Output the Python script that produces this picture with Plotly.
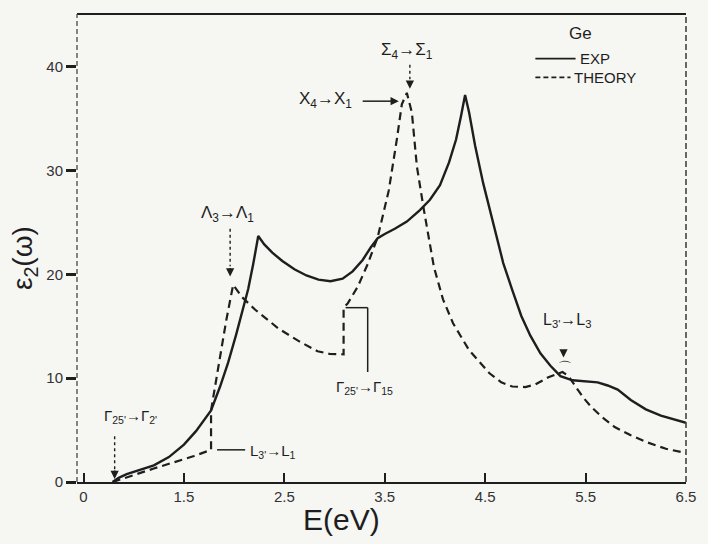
import plotly.graph_objects as go

# ---- data ----
exp_E = [0.79, 0.85, 0.93, 1.05, 1.2, 1.35, 1.5, 1.62, 1.77, 1.86, 1.94, 2.02, 2.08, 2.14, 2.19, 2.24,
         2.30, 2.38, 2.48, 2.60, 2.72, 2.84, 2.96, 3.08, 3.18, 3.28, 3.36, 3.43, 3.50, 3.60, 3.72, 3.85,
         3.95, 4.05, 4.14, 4.21, 4.26, 4.30, 4.34, 4.40, 4.48, 4.58, 4.68, 4.77, 4.86, 4.95, 5.05, 5.15,
         5.25, 5.37, 5.50, 5.62, 5.72, 5.82, 5.95, 6.10, 6.25, 6.40, 6.5]
exp_eps = [0, 0.4, 0.75, 1.1, 1.6, 2.4, 3.6, 4.9, 6.9, 9.2, 11.5, 14.2, 16.3, 18.6, 21.0, 23.7,
           22.9, 22.1, 21.3, 20.5, 19.9, 19.5, 19.35, 19.6, 20.3, 21.4, 22.6, 23.5, 23.9, 24.4, 25.1, 26.2,
           27.2, 28.6, 30.8, 33.0, 35.3, 37.3, 35.6, 32.4, 28.8, 24.8, 21.1, 18.5, 16.0, 14.1, 12.4, 11.2,
           10.2, 9.8, 9.7, 9.6, 9.3, 8.9, 7.9, 7.0, 6.4, 6.0, 5.7]

th_E = [0.79, 1.0, 1.2, 1.4, 1.6, 1.77, 1.77, 1.85, 1.92, 1.99, 2.08, 2.21, 2.33, 2.44, 2.64, 2.83,
        2.95, 3.09, 3.09, 3.13, 3.23, 3.33, 3.43, 3.54, 3.62, 3.67, 3.72, 3.77, 3.82, 3.89, 3.99, 4.08,
        4.18, 4.34, 4.54, 4.66, 4.77, 4.90, 5.00, 5.13, 5.27, 5.33, 5.40, 5.48, 5.56, 5.67, 5.79, 5.95,
        6.12, 6.30, 6.5]
th_eps = [0, 0.7, 1.3, 1.9, 2.5, 3.1, 6.9, 11.5, 15.5, 19.0, 17.8, 16.6, 15.7, 14.8, 13.6, 12.6,
          12.35, 12.3, 16.8, 17.2, 18.8, 21.0, 23.6, 28.1, 33.0, 36.4, 37.5, 35.6, 30.4, 26.2, 20.7, 17.6,
          15.3, 12.7, 10.5, 9.6, 9.2, 9.15, 9.4, 10.1, 10.6, 10.2, 9.2, 8.1, 7.2, 6.2, 5.3, 4.5,
          3.8, 3.2, 2.8]

x_tickvals = [0.5, 1.5, 2.5, 3.5, 4.5, 5.5, 6.5]
x_ticktext = ["0", "1.5", "2.5", "3.5", "4.5", "5.5", "6.5"]
y_tickvals = [0, 10, 20, 30, 40]

INK = "#1e1e1e"
FONT = "Liberation Sans"
BG = "#f6f6f3"

fig = go.Figure()
fig.add_trace(go.Scatter(x=exp_E, y=exp_eps, mode="lines", name="EXP",
                         line=dict(color=INK, width=2.4)))
fig.add_trace(go.Scatter(x=th_E, y=th_eps, mode="lines", name="THEORY",
                         line=dict(color=INK, width=2.2, dash="8px,5px")))

shapes = []
anns = []

def seg(x0, y0, x1, y1, dash=None, width=1.4):
    d = dict(type="line", xref="x", yref="y", x0=x0, y0=y0, x1=x1, y1=y1,
             line=dict(color=INK, width=width))
    if dash:
        d["line"]["dash"] = dash
    shapes.append(d)

def head(x, y, ax, ay):
    anns.append(dict(x=x, y=y, xref="x", yref="y", ax=ax, ay=ay, text="", showarrow=True,
                     arrowhead=2, arrowsize=1.1, arrowwidth=1.5, arrowcolor=INK, standoff=0))

def label(x, y, text, size=15, anchor="center"):
    anns.append(dict(x=x, y=y, xref="x", yref="y", text=text, showarrow=False,
                     xanchor=anchor, font=dict(family=FONT, size=size, color=INK)))

# frame
shapes.append(dict(type="line", xref="paper", yref="paper", x0=0, y0=1, x1=1, y1=1,
                   line=dict(color=INK, width=2)))
shapes.append(dict(type="line", xref="paper", yref="paper", x0=1, y0=0, x1=1, y1=1,
                   line=dict(color="#444", width=1.6, dash="6px,3px")))
shapes.append(dict(type="line", xref="paper", yref="paper", x0=0, y0=0, x1=0, y1=1,
                   line=dict(color="#555", width=1.4, dash="5px,3px")))

# Gamma25' -> Gamma2'
label(0.97, 6.3, "Γ<sub>25'</sub>→Γ<sub>2'</sub>", size=15)
seg(0.81, 4.4, 0.81, 1.0, dash="3px,3px")
head(0.81, 0.3, 0, -10)

# L3' -> L1
seg(1.83, 3.1, 2.11, 3.1, width=1.5)
label(2.14, 2.9, "L<sub>3'</sub>→L<sub>1</sub>", size=15, anchor="left")

# Lambda3 -> Lambda1
label(1.93, 25.8, "Λ<sub>3</sub>→Λ<sub>1</sub>", size=17)
seg(1.96, 24.4, 1.96, 20.8, dash="3px,3px")
head(1.96, 19.8, 0, -10)

# X4 -> X1
label(2.91, 36.8, "X<sub>4</sub>→X<sub>1</sub>", size=17)
seg(3.28, 36.7, 3.56, 36.7, width=1.5)
head(3.64, 36.7, -10, 0)

# Sigma4 -> Sigma1
label(3.72, 41.5, "Σ<sub>4</sub>→Σ<sub>1</sub>", size=17)
seg(3.75, 40.2, 3.75, 38.8, dash="3px,3px")
head(3.75, 37.9, 0, -9)

# Gamma25' -> Gamma15 bracket
seg(3.11, 16.8, 3.33, 16.8, width=1.5)
seg(3.33, 16.8, 3.33, 10.6, width=1.5)
label(3.30, 9.1, "Γ<sub>25'</sub>→Γ<sub>15</sub>", size=15)

# L3' -> L3
label(5.31, 15.6, "L<sub>3'</sub>→L<sub>3</sub>", size=16)
head(5.28, 12.0, 0, -9)
label(5.29, 11.1, "⌒", size=14)

# legend (hand drawn like the original)
label(5.45, 43.2, "Ge", size=17)
seg(5.0, 40.8, 5.40, 40.8, width=1.8)
label(5.42, 40.8, "EXP", size=15, anchor="left")
seg(5.0, 39.0, 5.35, 39.0, dash="5px,3px", width=1.8)
label(5.36, 39.0, "THEORY", size=15, anchor="left")

# axis titles
anns.append(dict(x=-0.085, y=0.479, xref="paper", yref="paper", text="ε<sub>2</sub>(ω)",
                 xanchor="center", yanchor="middle",
                 showarrow=False, textangle=-90, font=dict(family=FONT, size=28, color=INK)))
anns.append(dict(x=0.435, y=-0.081, xref="paper", yref="paper", text="E(eV)",
                 xanchor="center", yanchor="middle",
                 showarrow=False, font=dict(family=FONT, size=30, color=INK)))

fig.update_layout(
    width=708, height=544,
    margin=dict(l=77, r=16, t=14, b=62),
    paper_bgcolor=BG, plot_bgcolor=BG,
    showlegend=False,
    shapes=shapes, annotations=anns,
    xaxis=dict(range=[0.435, 6.5], tickvals=x_tickvals, ticktext=x_ticktext,
               ticks="inside", ticklen=9, tickwidth=1.6, tickcolor=INK,
               showline=True, linecolor=INK, linewidth=2, showgrid=False, zeroline=False,
               tickfont=dict(family=FONT, size=15, color="#333")),
    yaxis=dict(range=[0, 45.1], tickvals=y_tickvals,
               ticks="outside", ticklen=10, tickwidth=3, tickcolor=INK,
               showline=False, showgrid=False, zeroline=False,
               tickfont=dict(family=FONT, size=15, color="#333")),
)

fig.write_html("out.html")
